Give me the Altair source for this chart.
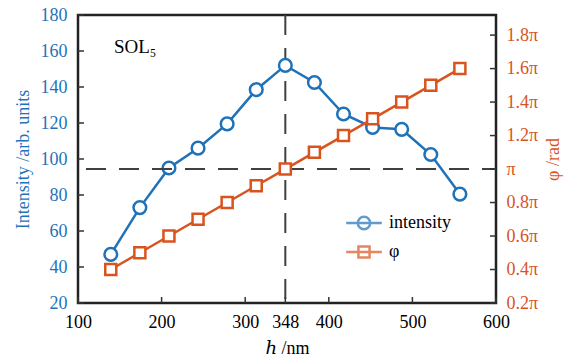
import altair as alt
import pandas as pd

# ---- data ----
h_nm = [139.2, 174.0, 208.8, 243.6, 278.4, 313.2, 348.0, 382.8, 417.6, 452.4, 487.2, 522.0, 556.8]
intensity = [47, 73, 95, 106, 119.5, 138.5, 152, 142.5, 125, 117.5, 116.5, 102.5, 80.5]
phase_pi = [0.4, 0.5, 0.6, 0.7, 0.8, 0.9, 1.0, 1.1, 1.2, 1.3, 1.4, 1.5, 1.6]

x_ticks = [100, 200, 300, 348, 400, 500, 600]
left_ticks = [20, 40, 60, 80, 100, 120, 140, 160, 180]
right_ticks = [0.2, 0.4, 0.6, 0.8, 1.0, 1.2, 1.4, 1.6, 1.8]
vline_h = [348]
hline_phi = [1.0]
series_names = ["intensity", "φ"]
annot_text = ["SOL₅"]
annot_h = [143]
annot_int = [159]

BLUE = "#1f72b8"
ORANGE = "#d9531e"
DASH = "#404040"
FONT = "'Liberation Serif', 'DejaVu Serif', serif"
W, H = 418, 288

df = pd.DataFrame({"h": h_nm, "intensity": intensity, "phase": phase_pi})

x_enc = alt.X(
    "h:Q",
    scale=alt.Scale(domain=[100, 600], nice=False, zero=False),
    axis=alt.Axis(values=x_ticks, title="ℎ /nm", ticks=False, domain=False, grid=False,
                  labelFont=FONT, labelFontSize=18, labelColor="black", labelPadding=10,
                  labelOverlap=False, labelFlush=False,
                  titleFont=FONT, titleFontSize=18, titleFontWeight="normal",
                  titleColor="black", titlePadding=8),
)


def y_left(field):
    return alt.Y(
        field,
        scale=alt.Scale(domain=[20, 180], nice=False, zero=False),
        axis=alt.Axis(orient="left", values=left_ticks, title="Intensity /arb. units",
                      ticks=False, domain=False, grid=False, labelFlush=False,
                      labelFont=FONT, labelFontSize=18, labelColor=BLUE, labelPadding=11,
                      titleFont=FONT, titleFontSize=18, titleFontWeight="normal",
                      titleColor=BLUE, titlePadding=8),
    )


def y_right(field):
    return alt.Y(
        field,
        scale=alt.Scale(domain=[0.2, 1.92], nice=False, zero=False),
        axis=alt.Axis(orient="right", values=right_ticks, title="φ /rad",
                      labelExpr="datum.value == 1 ? 'π' : format(datum.value, '.1f') + 'π'",
                      ticks=False, domain=False, grid=False, labelFlush=False,
                      labelFont=FONT, labelFontSize=18, labelColor=ORANGE, labelPadding=10,
                      titleFont=FONT, titleFontSize=18, titleFontWeight="normal",
                      titleColor=ORANGE, titlePadding=25, titleAngle=270),
    )


# ---- left group ----
vline = alt.Chart(pd.DataFrame({"h": vline_h})).mark_rule(
    color=DASH, strokeWidth=2, strokeDash=[20, 13]
).encode(x=x_enc, y=alt.value(0), y2=alt.value(H))

bottom_ticks = alt.Chart(pd.DataFrame({"h": x_ticks})).mark_rule(
    color="#333333", strokeWidth=1.5
).encode(x=x_enc, y=alt.value(H), y2=alt.value(H - 6))

left_tick_marks = alt.Chart(pd.DataFrame({"v": left_ticks})).mark_rule(
    color="#333333", strokeWidth=1.5
).encode(y=y_left("v:Q"), x=alt.value(0), x2=alt.value(6))

int_line = alt.Chart(df).mark_line(color=BLUE, strokeWidth=2.5).encode(
    x=x_enc, y=y_left("intensity:Q"))
int_pts = alt.Chart(df).mark_point(
    shape="circle", size=160, fill="white", fillOpacity=1, stroke=BLUE, strokeWidth=2.5, opacity=1
).encode(x=x_enc, y=y_left("intensity:Q"))

annot = alt.Chart(pd.DataFrame({"h": annot_h, "intensity": annot_int, "t": annot_text})).mark_text(
    font=FONT, fontSize=19, align="left", baseline="alphabetic", color="black"
).encode(x=x_enc, y=y_left("intensity:Q"), text="t:N")

path_circle = "M-1.15,0L1.15,0M0.4,0A0.4,0.4,0,1,1,-0.4,0A0.4,0.4,0,1,1,0.4,0Z"
path_square = "M-1.15,0L1.15,0M-0.36,-0.36L0.36,-0.36L0.36,0.36L-0.36,0.36Z"

leg = alt.Legend(orient="none", legendX=269, legendY=191, title=None, padding=0,
                 symbolSize=961, rowPadding=0, labelOffset=8, symbolStrokeWidth=2.5,
                 labelFont=FONT, labelFontSize=18, labelColor="black", labelLimit=200)

legend_layer = alt.Chart(pd.DataFrame({"series": series_names})).mark_point(
    filled=False, strokeWidth=2.5
).encode(
    color=alt.Color("series:N", scale=alt.Scale(domain=series_names, range=[BLUE, ORANGE]), legend=leg),
    shape=alt.Shape("series:N", scale=alt.Scale(domain=series_names, range=[path_circle, path_square]), legend=leg),
).transform_filter("false")

left_group = alt.layer(vline, bottom_ticks, left_tick_marks, int_line, int_pts, annot, legend_layer)

# ---- right group ----
hline = alt.Chart(pd.DataFrame({"phase": hline_phi})).mark_rule(
    color=DASH, strokeWidth=2, strokeDash=[20, 13]
).encode(y=y_right("phase:Q"), x=alt.value(8), x2=alt.value(W))

right_tick_marks = alt.Chart(pd.DataFrame({"v": right_ticks})).mark_rule(
    color="#333333", strokeWidth=1.5
).encode(y=y_right("v:Q"), x=alt.value(W - 6), x2=alt.value(W))

ph_line = alt.Chart(df).mark_line(color=ORANGE, strokeWidth=2.5).encode(
    x=x_enc, y=y_right("phase:Q"))
ph_pts = alt.Chart(df).mark_point(
    shape="square", size=121, fill="white", fillOpacity=1, stroke=ORANGE, strokeWidth=2.5, opacity=1
).encode(x=x_enc, y=y_right("phase:Q"))

right_group = alt.layer(hline, right_tick_marks, ph_line, ph_pts)

chart = alt.layer(left_group, right_group).resolve_scale(y="independent").properties(
    width=W, height=H,
    autosize=alt.AutoSizeParams(type="none"),
    padding={"left": 78, "top": 15, "right": 75, "bottom": 56},
    background="white",
).configure_view(stroke="#222222", strokeWidth=2.5).configure_axis(
    labelFont=FONT, titleFont=FONT
).configure_legend(labelFont=FONT)

chart.save("out.html", embed_options={"renderer": "svg", "actions": False})
